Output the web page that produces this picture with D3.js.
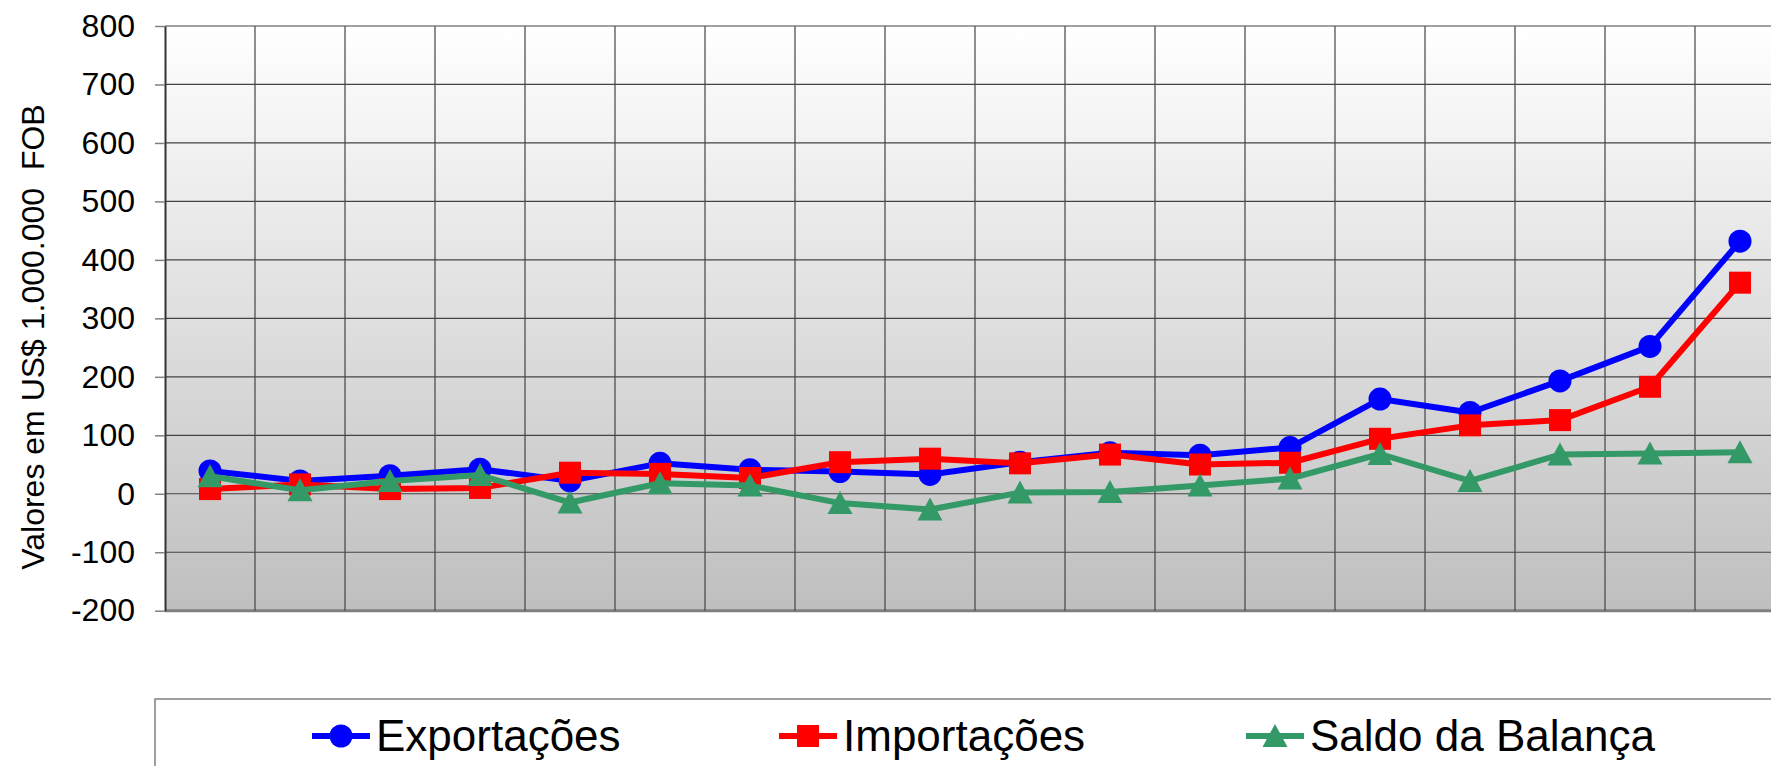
<!DOCTYPE html>
<html>
<head>
<meta charset="utf-8">
<script src="https://cdn.jsdelivr.net/npm/d3@7"></script>
<style>
    body { margin: 0; background: #fff; }
    text { font-family: Arial, "Liberation Sans", sans-serif; }
</style>
</head>
<body>
<div id="chart"></div>
<script>
// periods (no axis labels in the original chart)
const categories = ["1", "2", "3", "4", "5", "6", "7", "8", "9", "10", "11", "12", "13", "14", "15", "16", "17", "18"];
const exportacoes = [39, 22, 31, 42, 22, 52, 41, 38, 33, 54, 70, 66, 79, 162, 139, 193, 252, 432];
const importacoes = [8, 16, 8, 10, 36, 34, 27, 54, 60, 52, 67, 50, 53, 94, 117, 126, 183, 361];
const saldo = [30, 6, 22, 32, -15, 18, 14, -16, -27, 2, 3, 14, 26, 68, 22, 67, 69, 71];
const yTicks = [-200, -100, 0, 100, 200, 300, 400, 500, 600, 700, 800];
const yTitle = "Valores em US$ 1.000.000\u00a0\u00a0FOB";

const series = [
    {name: "Exportações", values: exportacoes, color: "#0000ff", marker: "circle"},
    {name: "Importações", values: importacoes, color: "#ff0000", marker: "square"},
    {name: "Saldo da Balança", values: saldo, color: "#339966", marker: "triangle"}
];

const width = 1771;
const height = 766;
const plot = {left: 165, top: 26, bottom: 610.7, catWidth: 90};

const x = d3.scaleBand()
    .domain(categories)
    .range([plot.left, plot.left + categories.length * plot.catWidth]);
const y = d3.scaleLinear()
    .domain([-200, 800])
    .range([plot.bottom, plot.top]);
const plotWidth = x.range()[1] - x.range()[0];

const svg = d3.select("#chart")
    .append("svg")
    .attr("width", width)
    .attr("height", height);

const grad = svg.append("defs").append("linearGradient")
    .attr("id", "bg")
    .attr("x1", 0).attr("y1", 0).attr("x2", 0).attr("y2", 1);
grad.append("stop").attr("offset", "0%").attr("stop-color", "#ffffff");
grad.append("stop").attr("offset", "100%").attr("stop-color", "#bfbfbf");

svg.append("rect")
    .attr("x", plot.left)
    .attr("y", plot.top)
    .attr("width", plotWidth)
    .attr("height", plot.bottom - plot.top)
    .attr("fill", "url(#bg)");

// horizontal grid
svg.append("g")
    .selectAll("line")
    .data(yTicks)
    .join("line")
    .attr("x1", plot.left)
    .attr("x2", plot.left + plotWidth)
    .attr("y1", d => y(d))
    .attr("y2", d => y(d))
    .attr("stroke", d => d === -200 ? "#808080" : "#444")
    .attr("stroke-width", d => d === -200 ? 3 : 1.2);

// vertical grid at category boundaries
svg.append("g")
    .selectAll("line")
    .data(categories.slice(1))
    .join("line")
    .attr("x1", d => x(d))
    .attr("x2", d => x(d))
    .attr("y1", plot.top)
    .attr("y2", plot.bottom)
    .attr("stroke", "#444")
    .attr("stroke-width", 1.2);

// y axis
const yAxis = svg.append("g")
    .attr("transform", "translate(" + plot.left + ",0)")
    .call(d3.axisLeft(y).tickValues(yTicks).tickFormat(d => String(d)).tickSize(10).tickPadding(20).tickSizeOuter(0));
yAxis.select(".domain").attr("stroke", "#333").attr("stroke-width", 2);
yAxis.selectAll(".tick line").attr("stroke", "#808080").attr("stroke-width", 1.5);
yAxis.selectAll(".tick text")
    .attr("font-size", 32)
    .attr("fill", "#000")
    .style("font-family", "Arial, 'Liberation Sans', sans-serif");

svg.append("text")
    .attr("transform", "translate(44,337) rotate(-90)")
    .attr("text-anchor", "middle")
    .attr("font-size", 32)
    .text(yTitle);

const cx = (d, i) => x(categories[i]) + x.bandwidth() / 2;

const drawMarker = (sel, type, color) => {
    if (type === "circle") {
        sel.append("circle").attr("r", 11.5).attr("fill", color);
    } else if (type === "square") {
        sel.append("rect").attr("x", -11).attr("y", -11).attr("width", 22).attr("height", 22).attr("fill", color);
    } else {
        sel.append("path").attr("d", "M0,-12L12.5,11L-12.5,11Z").attr("fill", color);
    }
};

const line = d3.line()
    .x(cx)
    .y(d => y(d));

series.forEach(s => {
    svg.append("path")
        .datum(s.values)
        .attr("d", line)
        .attr("fill", "none")
        .attr("stroke", s.color)
        .attr("stroke-width", 6)
        .attr("stroke-linejoin", "round");

    svg.append("g")
        .selectAll("g")
        .data(s.values)
        .join("g")
        .attr("transform", (d, i) => "translate(" + cx(d, i) + "," + y(d) + ")")
        .each(function () { drawMarker(d3.select(this), s.marker, s.color); });
});

// legend
svg.append("rect")
    .attr("x", 155)
    .attr("y", 699)
    .attr("width", 1700)
    .attr("height", 120)
    .attr("fill", "#fff")
    .attr("stroke", "#808080")
    .attr("stroke-width", 1.5);

const legendX = [312, 779, 1246];
const legend = svg.append("g")
    .selectAll("g")
    .data(series)
    .join("g")
    .attr("transform", (d, i) => "translate(" + legendX[i] + ",736)");

legend.append("line")
    .attr("x1", 0).attr("x2", 58)
    .attr("stroke", d => d.color)
    .attr("stroke-width", 6);
legend.append("g")
    .attr("transform", "translate(29,0)")
    .each(function (d) { drawMarker(d3.select(this), d.marker, d.color); });
legend.append("text")
    .attr("x", 64)
    .attr("y", 15)
    .attr("font-size", 44)
    .text(d => d.name);
</script>
</body>
</html>
